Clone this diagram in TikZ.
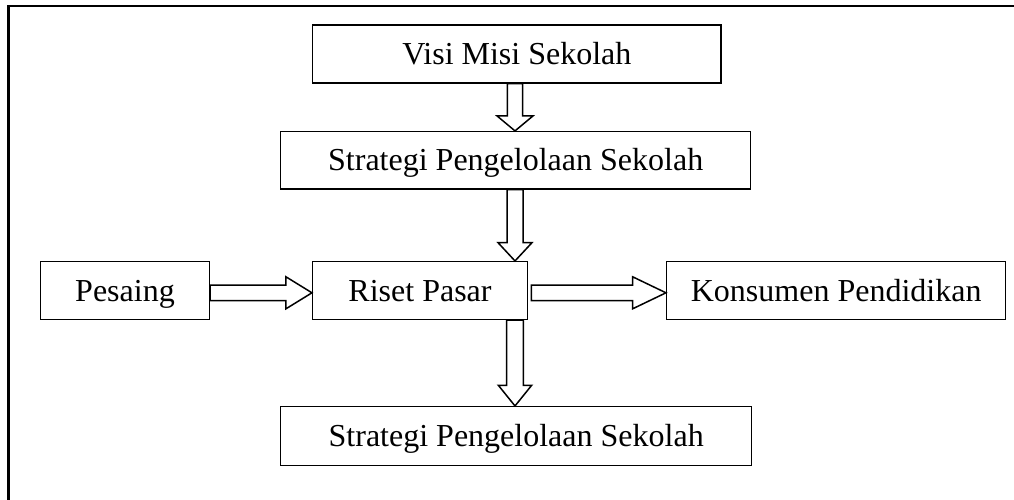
\documentclass[tikz,border=0pt]{standalone}
\usepackage{fontspec}
\setmainfont{Liberation Serif}
\usetikzlibrary{calc}
\tikzset{
  box/.style={draw, line width=1.5pt, inner sep=0pt, font=\fontsize{32}{36}\selectfont,
    text height=21.2pt, text depth=0pt, align=center},
  blk/.style={draw, line width=1.5pt, fill=white, line join=miter},
  frame/.style={draw, line width=2.4pt}
}
\begin{document}
\begin{tikzpicture}[x=1pt,y=-1pt]
\useasboundingbox (0,0) rectangle (1014,500);
\draw[frame, overlay] (8.3,520) -- (8.3,6) -- (1030,6);
\node[box, minimum width=408.3, minimum height=58] (visi) at (516.85,54) {Visi Misi Sekolah};
\node[box, minimum width=470, minimum height=57.3] (strat1) at (515.7,160.3) {Strategi Pengelolaan Sekolah};
\node[box, minimum width=168.6, minimum height=57.6] (pes) at (125,290.5) {Pesaing};
\node[box, minimum width=214.6, minimum height=57.6] (ris) at (420,290.5) {Riset Pasar};
\node[box, minimum width=339, minimum height=57.6] (kon) at (836.2,290.5) {Konsumen Pendidikan};
\node[box, minimum width=471, minimum height=59] (strat2) at (516.2,436.2) {Strategi Pengelolaan Sekolah};
\coordinate (ax) at (515,0);
\coordinate (ay) at (0,292.8);
% vertical arrows
\draw[blk] let \p1=(visi.south -| ax), \p2=(strat1.north -| ax) in
  (\x1-7.7pt,\y1) -- (\x1-7.7pt,\y2+15pt) -- (\x1-18pt,\y2+15pt) -- (\x1,\y2)
  -- (\x1+18pt,\y2+15pt) -- (\x1+7.7pt,\y2+15pt) -- (\x1+7.7pt,\y1) -- cycle;
\draw[blk] let \p1=(strat1.south -| ax), \p2=(ris.north -| ax) in
  (\x1-8pt,\y1) -- (\x1-8pt,\y2+18.3pt) -- (\x1-17pt,\y2+18.3pt) -- (\x1,\y2)
  -- (\x1+17pt,\y2+18.3pt) -- (\x1+8pt,\y2+18.3pt) -- (\x1+8pt,\y1) -- cycle;
\draw[blk] let \p1=(ris.south -| ax), \p2=(strat2.north -| ax) in
  (\x1-8.3pt,\y1) -- (\x1-8.3pt,\y2+20.7pt) -- (\x1-16.7pt,\y2+20.7pt) -- (\x1,\y2)
  -- (\x1+16.7pt,\y2+20.7pt) -- (\x1+8.3pt,\y2+20.7pt) -- (\x1+8.3pt,\y1) -- cycle;
% horizontal arrows
\draw[blk] let \p1=(pes.east |- ay), \p2=(ris.west |- ay) in
  (\x1,\y1+7.8pt) -- (\x2-26pt,\y1+7.8pt) -- (\x2-26pt,\y1+16pt) -- (\x2,\y1)
  -- (\x2-26pt,\y1-16pt) -- (\x2-26pt,\y1-7.8pt) -- (\x1,\y1-7.8pt) -- cycle;
\draw[blk] let \p1=(ris.east |- ay), \p2=(kon.west |- ay) in
  (\x1+3.4pt,\y1+7.8pt) -- (\x2-33.3pt,\y1+7.8pt) -- (\x2-33.3pt,\y1+16pt) -- (\x2,\y1)
  -- (\x2-33.3pt,\y1-16pt) -- (\x2-33.3pt,\y1-7.8pt) -- (\x1+3.4pt,\y1-7.8pt) -- cycle;
\end{tikzpicture}
\end{document}
